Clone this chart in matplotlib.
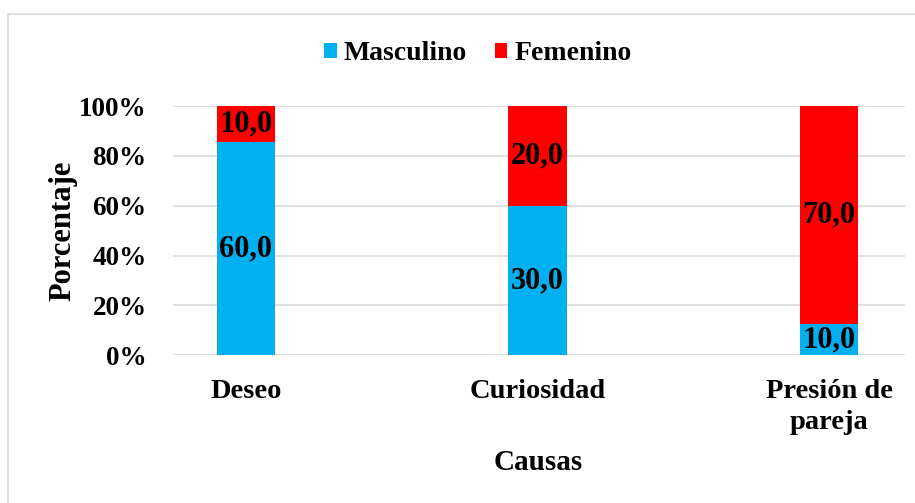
import matplotlib.pyplot as plt
import matplotlib.patches as mpatches
import numpy as np

causas = ['Deseo', 'Curiosidad', 'Presión de\npareja']
masculino = [60.0, 30.0, 10.0]
femenino = [10.0, 20.0, 70.0]

plt.rcParams['font.family'] = ['Liberation Serif', 'DejaVu Serif']
plt.rcParams['font.weight'] = 'bold'

m = np.array(masculino)
f = np.array(femenino)
tot = m + f
m_pct = m / tot * 100
f_pct = f / tot * 100
x = np.arange(len(causas))

fig = plt.figure(figsize=(9.15, 5.03), dpi=100)
fig.patches.append(mpatches.Rectangle((8 / 915, -0.01), 1.0, 1 - 14 / 503 + 0.01,
                                      transform=fig.transFigure, fill=False,
                                      edgecolor='#d9d9d9', lw=1.2))
ax = fig.add_axes([0.189, 0.294, 0.800, 0.495])

ax.bar(x, m_pct, width=0.2, color='#00B0F0', label='Masculino', zorder=3)
ax.bar(x, f_pct, width=0.2, bottom=m_pct, color='#FF0000', label='Femenino', zorder=3)

for i in range(len(x)):
    ax.text(x[i], m_pct[i] / 2, f'{masculino[i]:.1f}'.replace('.', ','),
            ha='center', va='center', fontsize=22, fontweight='bold', zorder=4)
    ax.text(x[i], m_pct[i] + f_pct[i] / 2, f'{femenino[i]:.1f}'.replace('.', ','),
            ha='center', va='center', fontsize=22, fontweight='bold', zorder=4)

ax.set_xlim(-0.25, 2.26)
ax.set_ylim(0, 100)
ax.set_yticks(np.arange(0, 101, 20))
ax.set_yticklabels([f'{v}%' for v in range(0, 101, 20)], fontsize=19.5, fontweight='bold')
ax.set_xticks(x)
ax.set_xticklabels(causas, fontsize=20.5, fontweight='bold', linespacing=1.35)
ax.tick_params(axis='y', length=0, pad=19)
ax.tick_params(axis='x', length=0, pad=17)
ax.grid(axis='y', color='#d9d9d9', lw=1.2, zorder=0)
for s in ax.spines.values():
    s.set_visible(False)

ax.set_ylabel('Porcentaje', fontsize=22, fontweight='bold', labelpad=1)
fig.text(538 / 915, 1 - 462 / 503, 'Causas', ha='center', va='center',
         fontsize=21, fontweight='bold')

ax.legend(loc='center', bbox_to_anchor=(478 / 915, 1 - 54 / 503),
          bbox_transform=fig.transFigure, ncol=2, frameon=False,
          handlelength=0.45, handleheight=0.45, handletextpad=0.25,
          columnspacing=1.0, prop={'size': 20, 'weight': 'bold'})

fig.savefig('out.png', dpi=100)
